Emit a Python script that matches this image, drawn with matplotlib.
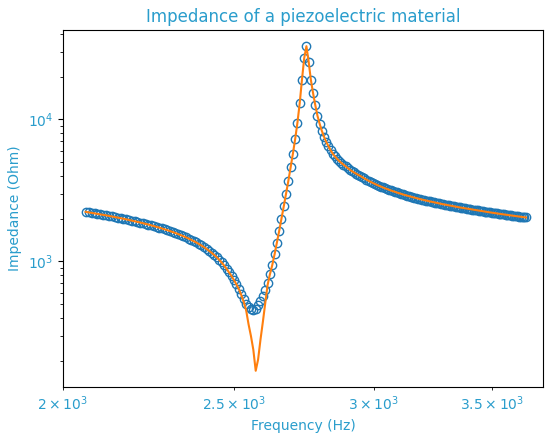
import matplotlib.pyplot as plt
from matplotlib.ticker import FixedLocator, LogFormatterSciNotation, NullLocator

# Частоты измерения (Гц)
freq = [2060, 2068, 2076, 2084, 2092, 2100, 2108, 2116, 2124, 2132,
        2140, 2148, 2156, 2164, 2172, 2180, 2188, 2196, 2204, 2212,
        2220, 2228, 2236, 2244, 2252, 2260, 2268, 2276, 2284, 2292,
        2300, 2308, 2316, 2324, 2332, 2340, 2348, 2356, 2364, 2372,
        2380, 2388, 2396, 2404, 2412, 2420, 2428, 2436, 2444, 2452,
        2460, 2468, 2476, 2484, 2492, 2500, 2508, 2516, 2524, 2532,
        2540, 2548, 2556, 2564, 2572, 2580, 2588, 2596, 2604, 2612,
        2620, 2628, 2636, 2644, 2652, 2660, 2668, 2676, 2684, 2692,
        2700, 2708, 2716, 2724, 2732, 2740, 2748, 2756, 2764, 2772,
        2780, 2788, 2796, 2804, 2812, 2820, 2828, 2836, 2844, 2852,
        2860, 2868, 2876, 2884, 2892, 2900, 2908, 2916, 2924, 2932,
        2940, 2948, 2956, 2964, 2972, 2980, 2988, 2996, 3004, 3012,
        3020, 3028, 3036, 3044, 3052, 3060, 3068, 3076, 3084, 3092,
        3100, 3108, 3116, 3124, 3132, 3140, 3148, 3156, 3164, 3172,
        3180, 3188, 3196, 3204, 3212, 3220, 3228, 3236, 3244, 3252,
        3260, 3268, 3276, 3284, 3292, 3300, 3308, 3316, 3324, 3332,
        3340, 3348, 3356, 3364, 3372, 3380, 3388, 3396, 3404, 3412,
        3420, 3428, 3436, 3444, 3452, 3460, 3468, 3476, 3484, 3492,
        3500, 3508, 3516, 3524, 3532, 3540, 3548, 3556, 3564, 3572,
        3580, 3588, 3596, 3604, 3612, 3620, 3628, 3636, 3644, 3652,
        3660]

# Измеренный импеданс (Ом)
impedance = [2236, 2218, 2201, 2183, 2165, 2147, 2129, 2111, 2093, 2075,
             2056, 2037, 2019, 2000, 1980, 1961, 1941, 1922, 1902, 1881,
             1861, 1840, 1819, 1797, 1776, 1754, 1731, 1708, 1685, 1661,
             1637, 1612, 1587, 1561, 1535, 1508, 1480, 1451, 1422, 1392,
             1361, 1329, 1296, 1262, 1227, 1190, 1152, 1113, 1072, 1029,
             984, 937, 888, 837, 790, 740, 690, 640, 590, 540,
             500, 475, 462, 458, 465, 490, 525, 570, 630, 710,
             810, 940, 1120, 1350, 1640, 2000, 2450, 3000, 3700, 4600,
             5750, 7300, 9500, 13000, 19000, 27000, 32800, 25500, 19000, 15300,
             12600, 10600, 9300, 8300, 7550, 6950, 6480, 6080, 5745, 5495,
             5284, 5103, 4948, 4812, 4670, 4543, 4428, 4327, 4234, 4150,
             4074, 4004, 3920, 3842, 3769, 3701, 3637, 3577, 3521, 3468,
             3417, 3370, 3324, 3281, 3240, 3201, 3164, 3128, 3094, 3061,
             3029, 2999, 2970, 2941, 2914, 2888, 2863, 2839, 2815, 2792,
             2770, 2748, 2727, 2707, 2687, 2668, 2649, 2631, 2613, 2596,
             2579, 2563, 2547, 2531, 2516, 2501, 2486, 2472, 2458, 2444,
             2430, 2417, 2404, 2392, 2379, 2367, 2355, 2343, 2332, 2320,
             2309, 2298, 2287, 2277, 2266, 2256, 2246, 2236, 2226, 2216,
             2207, 2197, 2188, 2179, 2170, 2161, 2152, 2144, 2135, 2127,
             2119, 2110, 2102, 2094, 2086, 2079, 2071, 2063, 2056, 2048,
             2041]

# Аппроксимация: совпадает с измерениями везде, кроме провала у резонанса (точки 58..69)
fit_dip = [580, 520, 454, 362, 299, 239, 170, 204, 281, 374, 508, 680]
impedance_fit = impedance[:58] + fit_dip + impedance[70:]

# Подписи по оси частот
freq_ticks = [2000, 2500, 3000, 3500]

text_color = '#2a9dcc'

fig = plt.figure(figsize=(5.54, 4.44), dpi=100)
ax = fig.add_axes([0.1137, 0.1284, 0.8664, 0.8041])
ax.loglog(freq, impedance, 'o', mfc='none', color='C0')
ax.loglog(freq, impedance_fit, color='C1')
ax.set_xlim(2000, 3742)
ax.xaxis.set_minor_locator(FixedLocator(freq_ticks))
ax.xaxis.set_minor_formatter(LogFormatterSciNotation(labelOnlyBase=False))
ax.set_title('Impedance of a piezoelectric material', color=text_color)
ax.set_xlabel('Frequency (Hz)', color=text_color)
ax.set_ylabel('Impedance (Ohm)', color=text_color)
ax.tick_params(which='both', labelcolor=text_color)
fig.savefig('out.png')
